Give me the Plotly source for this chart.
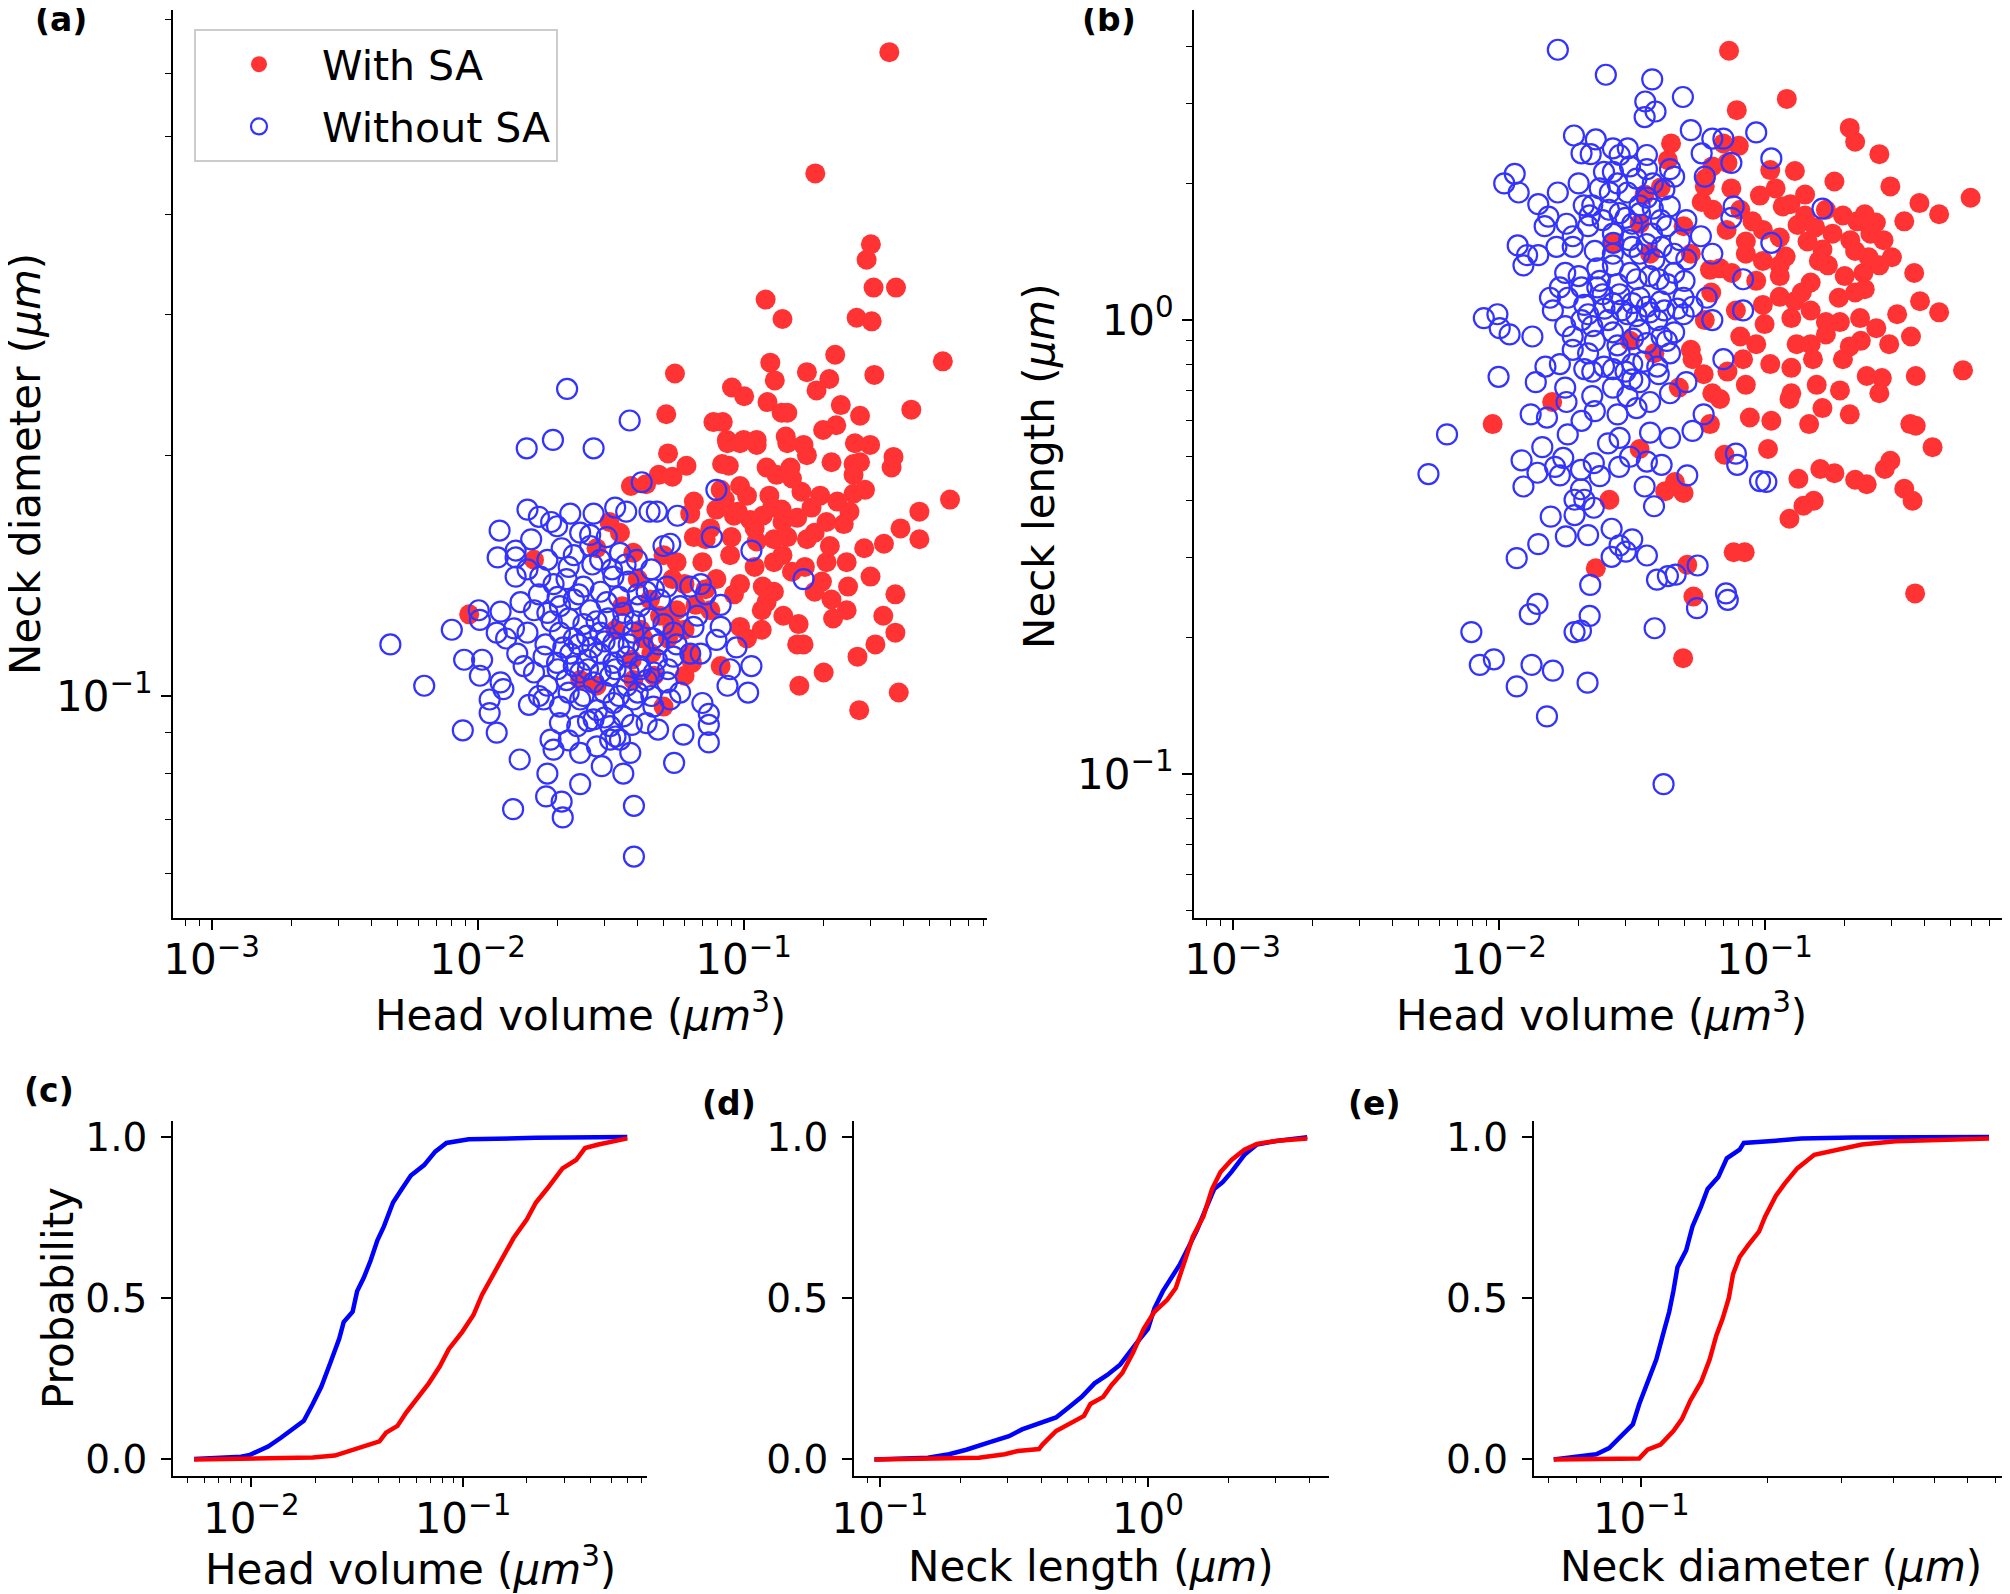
import plotly.graph_objects as go

W, H = 2010, 1594
OX, OY = 8, 8                      # page body offset of the plot div
FW, FH = W - OX, H - OY            # figure size so that it fills the window
FONT = "DejaVu Sans"
RED_PT = "rgb(255,51,51)"
BLUE_PT = "rgb(51,51,255)"

# ---------------- data ----------------
# (a) head volume (um^3) vs neck diameter (um)
a_with_sa = [
    (0.353, 0.638), (0.186, 0.450), (0.301, 0.367), (0.290, 0.351), (0.308, 0.324), (0.374, 0.324),
    (0.121, 0.313), (0.140, 0.296), (0.266, 0.297), (0.303, 0.294), (0.561, 0.262), (0.221, 0.267),
    (0.0552, 0.253), (0.126, 0.261), (0.131, 0.248), (0.173, 0.254), (0.210, 0.249), (0.188, 0.241),
    (0.310, 0.252), (0.0904, 0.243), (0.1005, 0.237), (0.123, 0.233), (0.139, 0.226), (0.146, 0.226),
    (0.232, 0.231), (0.274, 0.224), (0.427, 0.228), (0.0512, 0.225), (0.077, 0.220), (0.0835, 0.220),
    (0.223, 0.218), (0.199, 0.215), (0.0865, 0.209), (0.100, 0.209), (0.112, 0.209), (0.144, 0.211),
    (0.052, 0.201), (0.061, 0.194), (0.083, 0.195), (0.088, 0.194), (0.087, 0.207), (0.097, 0.207),
    (0.112, 0.206), (0.146, 0.207), (0.168, 0.206), (0.173, 0.200), (0.262, 0.207), (0.299, 0.206),
    (0.366, 0.199), (0.360, 0.193), (0.214, 0.196), (0.259, 0.195), (0.274, 0.196), (0.259, 0.189),
    (0.122, 0.193), (0.133, 0.189), (0.150, 0.193), (0.152, 0.187), (0.048, 0.189), (0.054, 0.188),
    (0.043, 0.184), (0.097, 0.183), (0.103, 0.178), (0.082, 0.181), (0.194, 0.178), (0.180, 0.172),
    (0.259, 0.179), (0.286, 0.181), (0.597, 0.176), (0.458, 0.170), (0.389, 0.162), (0.458, 0.157),
    (0.063, 0.169), (0.079, 0.171), (0.092, 0.168), (0.106, 0.166), (0.118, 0.168), (0.128, 0.172),
    (0.139, 0.171), (0.159, 0.167), (0.205, 0.165), (0.238, 0.164), (0.065, 0.158), (0.072, 0.157),
    (0.089, 0.150), (0.112, 0.156), (0.130, 0.157), (0.146, 0.158), (0.173, 0.157), (0.211, 0.154),
    (0.284, 0.153), (0.337, 0.155), (0.050, 0.150), (0.056, 0.147), (0.070, 0.147), (0.079, 0.140),
    (0.130, 0.147), (0.152, 0.143), (0.205, 0.147), (0.244, 0.147), (0.097, 0.138), (0.092, 0.134),
    (0.118, 0.137), (0.122, 0.131), (0.130, 0.135), (0.197, 0.139), (0.247, 0.137), (0.300, 0.141),
    (0.372, 0.134), (0.117, 0.128), (0.141, 0.126), (0.161, 0.123), (0.214, 0.132), (0.217, 0.125),
    (0.244, 0.128), (0.335, 0.126), (0.372, 0.120), (0.097, 0.122), (0.117, 0.121), (0.103, 0.118),
    (0.159, 0.116), (0.168, 0.116), (0.313, 0.116), (0.268, 0.112), (0.060, 0.106), (0.082, 0.109),
    (0.063, 0.113), (0.200, 0.107), (0.162, 0.103), (0.383, 0.101), (0.272, 0.096),
    (0.0445, 0.132), (0.0485, 0.126), (0.054, 0.122), (0.046, 0.106), (0.042, 0.118), (0.075, 0.128),
    (0.072, 0.136), (0.054, 0.140),
    (0.0377, 0.183), (0.0163, 0.148), (0.0093, 0.1265), (0.0313, 0.165), (0.0343, 0.160), (0.0385, 0.151),
    (0.028, 0.153), (0.040, 0.140), (0.0243, 0.1047), (0.028, 0.103), (0.041, 0.121), (0.035, 0.1295),
    (0.0385, 0.1047), (0.050, 0.097),
    (0.065, 0.175), (0.075, 0.162), (0.085, 0.176), (0.095, 0.170), (0.110, 0.162), (0.125, 0.178),
    (0.140, 0.165), (0.165, 0.180), (0.185, 0.160), (0.225, 0.175), (0.250, 0.170), (0.170, 0.145),
    (0.185, 0.135), (0.140, 0.150), (0.110, 0.145), (0.090, 0.158), (0.060, 0.138), (0.066, 0.130),
    (0.045, 0.113), (0.052, 0.118), (0.038, 0.111), (0.033, 0.121), (0.056, 0.128), (0.060, 0.121),
    (0.064, 0.110),
]
a_without_sa = [
    (0.0217, 0.242), (0.0373, 0.221), (0.0153, 0.204), (0.0192, 0.209), (0.0273, 0.204), (0.0414, 0.185),
    (0.0154, 0.171), (0.0170, 0.1675), (0.0189, 0.165), (0.0223, 0.169), (0.0273, 0.169), (0.0329, 0.172),
    (0.0362, 0.170), (0.0443, 0.170), (0.0472, 0.170), (0.0564, 0.168), (0.0121, 0.161), (0.0159, 0.157),
    (0.0199, 0.163), (0.0243, 0.160), (0.0265, 0.159), (0.0306, 0.158), (0.0119, 0.149), (0.0139, 0.152),
    (0.0139, 0.149), (0.0154, 0.144), (0.0183, 0.148), (0.0207, 0.153), (0.0230, 0.150), (0.0265, 0.154),
    (0.0289, 0.148), (0.0343, 0.151), (0.0397, 0.148), (0.0500, 0.154), (0.0530, 0.155), (0.0139, 0.141),
    (0.0172, 0.141), (0.0193, 0.138), (0.0216, 0.140), (0.0250, 0.137), (0.0324, 0.141), (0.0369, 0.139),
    (0.0432, 0.135), (0.0515, 0.137), (0.0630, 0.137), (0.0101, 0.128), (0.0122, 0.1275), (0.0145, 0.131),
    (0.0163, 0.128), (0.0183, 0.127), (0.0204, 0.1295), (0.0230, 0.132), (0.0265, 0.128), (0.0306, 0.131),
    (0.0353, 0.127), (0.0408, 0.1295), (0.0485, 0.132), (0.0577, 0.1295), (0.0080, 0.121), (0.0047, 0.116),
    (0.0102, 0.1245), (0.0137, 0.1215), (0.0118, 0.120), (0.0154, 0.120), (0.0128, 0.118), (0.0204, 0.120),
    (0.0230, 0.118), (0.0258, 0.119), (0.0289, 0.120), (0.0324, 0.1165), (0.0385, 0.120), (0.0458, 0.118),
    (0.0545, 0.120), (0.0648, 0.122), (0.0089, 0.111), (0.0104, 0.111), (0.0102, 0.106), (0.0141, 0.113),
    (0.0149, 0.109), (0.0177, 0.112), (0.0199, 0.110), (0.0223, 0.113), (0.0258, 0.111), (0.0289, 0.113),
    (0.0324, 0.110), (0.0364, 0.112), (0.0408, 0.109), (0.0472, 0.111), (0.0545, 0.112), (0.0630, 0.113),
    (0.0063, 0.103), (0.0122, 0.104), (0.0125, 0.102), (0.0163, 0.107), (0.0183, 0.103), (0.0216, 0.1047),
    (0.0243, 0.107), (0.0273, 0.104), (0.0315, 0.106), (0.0364, 0.103), (0.0432, 0.1047), (0.0515, 0.104),
    (0.0577, 0.101), (0.0111, 0.099), (0.0111, 0.0952), (0.0156, 0.0975), (0.0177, 0.099), (0.0204, 0.097),
    (0.0243, 0.099), (0.0281, 0.096), (0.0324, 0.098), (0.0385, 0.099), (0.0458, 0.097), (0.0530, 0.099),
    (0.0594, 0.0895), (0.0088, 0.0906), (0.0118, 0.090), (0.0204, 0.0925), (0.0237, 0.0917), (0.0273, 0.0935),
    (0.0315, 0.0917), (0.0353, 0.0943), (0.0432, 0.0925), (0.0477, 0.0908), (0.0144, 0.0833), (0.0188, 0.0882),
    (0.0193, 0.0857), (0.0243, 0.0849), (0.0281, 0.0865), (0.0315, 0.0882), (0.0343, 0.0882), (0.0375, 0.0849),
    (0.0548, 0.0825), (0.0183, 0.080), (0.0243, 0.0776), (0.0293, 0.0817), (0.0353, 0.080), (0.0181, 0.0749),
    (0.0207, 0.0738), (0.0209, 0.0705), (0.0136, 0.0722), (0.0387, 0.0729), (0.0387, 0.063),
    (0.079, 0.181), (0.076, 0.158), (0.107, 0.152), (0.168, 0.140), (0.069, 0.138), (0.082, 0.122),
    (0.094, 0.115), (0.107, 0.109), (0.087, 0.103), (0.104, 0.101), (0.070, 0.098), (0.074, 0.095),
    (0.074, 0.092), (0.074, 0.0875), (0.072, 0.134), (0.082, 0.130), (0.067, 0.126), (0.079, 0.1175),
    (0.069, 0.113), (0.089, 0.108),
    (0.019, 0.124), (0.022, 0.125), (0.025, 0.123), (0.028, 0.124), (0.031, 0.125), (0.035, 0.123),
    (0.039, 0.124), (0.044, 0.125), (0.050, 0.123), (0.018, 0.116), (0.021, 0.115), (0.024, 0.116),
    (0.027, 0.115), (0.030, 0.117), (0.034, 0.115), (0.037, 0.116), (0.042, 0.115), (0.048, 0.116),
    (0.056, 0.116), (0.020, 0.108), (0.023, 0.109), (0.026, 0.108), (0.029, 0.107), (0.033, 0.108),
    (0.037, 0.107), (0.041, 0.108), (0.046, 0.107), (0.052, 0.108), (0.017, 0.100), (0.022, 0.101),
    (0.025, 0.100), (0.030, 0.101), (0.034, 0.100), (0.040, 0.101), (0.045, 0.100), (0.026, 0.093),
    (0.030, 0.094), (0.038, 0.092), (0.022, 0.088), (0.033, 0.089), (0.020, 0.133), (0.024, 0.134),
    (0.029, 0.135), (0.034, 0.133), (0.040, 0.134), (0.046, 0.136), (0.017, 0.134), (0.022, 0.145),
    (0.027, 0.146), (0.032, 0.144), (0.036, 0.146), (0.045, 0.144),
]

# (b) head volume (um^3) vs neck length (um)
b_with_sa = [
    (0.0445, 2.45), (0.0433, 2.25), (0.0407, 1.96), (0.0354, 1.89), (0.0596, 1.97), (0.0580, 1.82),
    (0.0496, 1.61), (0.0528, 1.40), (0.0623, 1.29), (0.0269, 1.48), (0.0339, 1.63), (0.0371, 1.40),
    (0.0596, 1.00), (0.0312, 0.90), (0.0385, 0.845), (0.0528, 0.86), (0.0536, 0.82), (0.0590, 0.76),
    (0.0476, 0.71), (0.0636, 0.69), (0.0159, 0.66), (0.0095, 0.59), (0.0623, 0.59), (0.0339, 0.52),
    (0.0636, 2.18), (0.064, 1.75), (0.063, 1.15),
    (0.0261, 0.402), (0.0423, 0.420), (0.0496, 0.416), (0.0232, 0.284), (0.0512, 0.289), (0.0765, 0.308),
    (0.0842, 0.308), (0.0540, 0.246), (0.0494, 0.180), (0.0707, 0.505), (0.046, 0.44),
    (0.0735, 3.92), (0.1212, 3.07), (0.0786, 2.90), (0.209, 2.65), (0.219, 2.47), (0.270, 2.32),
    (0.183, 2.02), (0.297, 1.97), (0.595, 1.86), (0.382, 1.81), (0.453, 1.71), (0.335, 1.65),
    (0.080, 2.42), (0.0725, 2.22), (0.105, 2.14), (0.130, 2.13), (0.142, 1.89), (0.096, 1.88),
    (0.117, 1.78), (0.081, 1.75), (0.170, 1.75), (0.197, 1.70), (0.223, 1.65), (0.238, 1.71),
    (0.262, 1.64), (0.142, 1.70), (0.133, 1.62), (0.0985, 1.58), (0.114, 1.52), (0.085, 1.49),
    (0.145, 1.49), (0.165, 1.43), (0.219, 1.42), (0.246, 1.375), (0.301, 1.375), (0.173, 1.32),
    (0.0985, 1.35), (0.114, 1.32), (0.0752, 1.27), (0.093, 1.22), (0.114, 1.25), (0.149, 1.21),
    (0.200, 1.25), (0.235, 1.27), (0.270, 1.32), (0.365, 1.27), (0.219, 1.15), (0.238, 1.17),
    (0.0985, 1.08), (0.114, 1.125), (0.138, 1.15), (0.126, 1.01), (0.149, 1.05), (0.170, 0.99),
    (0.192, 0.99), (0.2285, 1.01), (0.263, 0.96), (0.315, 1.03), (0.384, 1.10), (0.453, 1.04),
    (0.355, 0.92), (0.294, 0.885), (0.093, 0.885), (0.081, 0.92), (0.132, 0.885), (0.149, 0.885),
    (0.209, 0.875), (0.105, 0.80), (0.126, 0.785), (0.152, 0.82), (0.197, 0.82), (0.083, 0.82),
    (0.0725, 0.77), (0.242, 0.753), (0.276, 0.745), (0.270, 0.69), (0.370, 0.753), (0.557, 0.775),
    (0.085, 0.72), (0.126, 0.69), (0.157, 0.72), (0.192, 0.70), (0.068, 0.67), (0.124, 0.67),
    (0.165, 0.64), (0.209, 0.62), (0.088, 0.61), (0.106, 0.60), (0.147, 0.59), (0.353, 0.59),
    (0.370, 0.585), (0.428, 0.525), (0.103, 0.52), (0.134, 0.447), (0.162, 0.47), (0.183, 0.46),
    (0.219, 0.445), (0.242, 0.435), (0.297, 0.49), (0.283, 0.47), (0.335, 0.425), (0.360, 0.40),
    (0.153, 0.40), (0.140, 0.39), (0.124, 0.365), (0.368, 0.25),
    (0.075, 1.95), (0.090, 1.65), (0.110, 1.95), (0.125, 1.80), (0.155, 1.60), (0.180, 1.55),
    (0.210, 1.50), (0.250, 1.55), (0.280, 1.50), (0.085, 1.40), (0.120, 1.38), (0.160, 1.35),
    (0.190, 1.12), (0.130, 1.10), (0.100, 0.98), (0.170, 0.93), (0.230, 0.90), (0.078, 1.05),
    (0.068, 1.30), (0.072, 1.58), (0.060, 2.05), (0.070, 2.45),
]
b_without_sa = [
    (0.0167, 3.94), (0.0253, 3.47), (0.0378, 3.39), (0.0493, 3.10), (0.0356, 3.03), (0.0389, 2.88),
    (0.0354, 2.80), (0.0192, 2.55), (0.0232, 2.50), (0.0205, 2.33), (0.0222, 2.32), (0.0269, 2.39),
    (0.0306, 2.39), (0.0285, 2.31), (0.0361, 2.31), (0.0528, 2.62), (0.0580, 2.33), (0.0636, 2.51),
    (0.0105, 2.00), (0.0115, 2.10), (0.0119, 1.91), (0.0141, 1.80), (0.0167, 1.91), (0.0154, 1.69),
    (0.0149, 1.61), (0.0180, 1.63), (0.0225, 1.79), (0.0249, 2.12), (0.0269, 2.12), (0.0312, 2.18),
    (0.0361, 2.15), (0.0441, 2.15), (0.0305, 1.91), (0.0361, 1.86), (0.0420, 1.94), (0.0457, 2.07),
    (0.0596, 2.07), (0.0118, 1.46), (0.0128, 1.39), (0.0124, 1.32), (0.0141, 1.39), (0.0165, 1.45),
    (0.0190, 1.53), (0.0217, 1.61), (0.0246, 1.66), (0.0269, 1.55), (0.0318, 1.63), (0.0377, 1.55),
    (0.0429, 1.61), (0.0508, 1.66), (0.0576, 1.53), (0.0636, 1.40), (0.0178, 1.27), (0.0170, 1.18),
    (0.0156, 1.12), (0.0182, 1.12), (0.0205, 1.18), (0.0235, 1.30), (0.0269, 1.32), (0.0312, 1.27),
    (0.0339, 1.40), (0.0400, 1.23), (0.0457, 1.27), (0.0508, 1.36), (0.0246, 1.14), (0.0269, 1.09),
    (0.0318, 1.09), (0.0361, 1.07), (0.0420, 1.05), (0.0496, 1.12), (0.0536, 1.07), (0.0606, 1.12),
    (0.0088, 1.01), (0.0099, 1.03), (0.0101, 0.96), (0.0110, 0.93), (0.0134, 0.92), (0.0178, 0.97),
    (0.0205, 1.00), (0.0225, 0.97), (0.0269, 0.94), (0.0339, 0.95), (0.0395, 1.00), (0.0457, 0.94),
    (0.0636, 1.00), (0.0190, 0.86), (0.0217, 0.845), (0.0249, 0.79), (0.0285, 0.845), (0.0318, 0.80),
    (0.0395, 0.79), (0.0441, 0.845), (0.0100, 0.75), (0.0138, 0.73), (0.0150, 0.79), (0.0178, 0.71),
    (0.0225, 0.68), (0.0269, 0.71), (0.0305, 0.68), (0.0339, 0.73), (0.0371, 0.66), (0.0441, 0.69),
    (0.0508, 0.73), (0.0590, 0.62), (0.0064, 0.56), (0.0132, 0.62), (0.0152, 0.61), (0.0182, 0.56),
    (0.0205, 0.60), (0.0258, 0.535), (0.0285, 0.55), (0.0371, 0.565), (0.0441, 0.55), (0.0536, 0.57),
    (0.0146, 0.525),
    (0.0209, 1.79), (0.0262, 1.91), (0.0285, 1.72), (0.0339, 1.79), (0.0407, 1.66), (0.0269, 1.40),
    (0.0318, 1.45), (0.0385, 1.36), (0.0457, 1.40), (0.0235, 1.18), (0.0285, 1.14), (0.0339, 1.12),
    (0.0407, 1.10), (0.0496, 1.03), (0.0217, 1.03), (0.0258, 1.00), (0.0305, 1.03), (0.0429, 0.90),
    (0.0225, 0.77), (0.0269, 0.78), (0.0318, 0.74),
    (0.020, 2.0), (0.024, 1.95), (0.028, 2.0), (0.033, 2.05), (0.038, 2.0), (0.022, 1.7), (0.026, 1.75),
    (0.030, 1.68), (0.034, 1.72), (0.038, 1.76), (0.044, 1.78), (0.019, 1.45), (0.023, 1.42), (0.027, 1.48),
    (0.031, 1.50), (0.036, 1.47), (0.041, 1.45), (0.048, 1.50), (0.020, 1.25), (0.024, 1.22), (0.028, 1.20),
    (0.033, 1.23), (0.037, 1.25), (0.043, 1.20), (0.050, 1.22), (0.016, 1.05), (0.021, 1.08), (0.025, 1.06),
    (0.029, 1.05), (0.033, 1.02), (0.037, 1.04), (0.047, 1.06), (0.019, 0.92), (0.023, 0.90), (0.028, 0.88),
    (0.032, 0.91), (0.036, 0.89), (0.041, 0.92), (0.017, 0.80), (0.021, 0.78), (0.030, 0.77), (0.035, 0.81),
    (0.040, 0.76), (0.023, 0.63), (0.028, 0.62), (0.033, 0.64), (0.018, 0.66),
    (0.00545, 0.458), (0.0122, 0.491), (0.0140, 0.461), (0.0124, 0.430), (0.0175, 0.497), (0.0163, 0.475),
    (0.0170, 0.455), (0.0204, 0.468), (0.0240, 0.453), (0.0228, 0.484), (0.0284, 0.475), (0.0312, 0.500),
    (0.0361, 0.488), (0.0410, 0.480), (0.0354, 0.430), (0.0384, 0.389), (0.0512, 0.455), (0.0789, 0.480),
    (0.078, 0.508), (0.0961, 0.442), (0.0204, 0.424), (0.0193, 0.402), (0.0210, 0.402), (0.0228, 0.386),
    (0.0193, 0.372), (0.0157, 0.369), (0.0217, 0.336), (0.0179, 0.334), (0.0141, 0.321), (0.0117, 0.299),
    (0.0266, 0.347), (0.0285, 0.319), (0.0318, 0.329), (0.0301, 0.309), (0.0361, 0.303), (0.0266, 0.301),
    (0.0221, 0.261), (0.0394, 0.268), (0.0433, 0.273), (0.0463, 0.275), (0.0560, 0.288), (0.0716, 0.250),
    (0.0727, 0.242), (0.0140, 0.237), (0.0131, 0.225), (0.0220, 0.223), (0.0193, 0.2055), (0.0204, 0.207),
    (0.0386, 0.2095), (0.0557, 0.232), (0.0079, 0.2055), (0.0085, 0.174), (0.0096, 0.179), (0.0117, 0.156),
    (0.0133, 0.174), (0.0160, 0.169), (0.0216, 0.159), (0.0152, 0.134), (0.0417, 0.095),
    (0.093, 2.59), (0.106, 2.27), (0.070, 2.51), (0.075, 2.22), (0.165, 1.76), (0.0765, 1.78),
    (0.075, 1.68), (0.106, 1.48), (0.083, 1.23), (0.083, 1.05), (0.070, 0.82), (0.1015, 0.44),
]

# (c) cumulative probability of head volume
c_without_vol = [0.00537, 0.00894, 0.00986, 0.0106, 0.012, 0.0138, 0.016, 0.0177, 0.0195, 0.0214, 0.0236,
                 0.026, 0.0273, 0.0301, 0.0316, 0.034, 0.0366, 0.0394, 0.0423, 0.0467, 0.0514, 0.0567,
                 0.0655, 0.0739, 0.0835, 0.1064, 0.221, 0.597]
c_without_p = [0.001, 0.008, 0.014, 0.024, 0.040, 0.067, 0.098, 0.120, 0.172, 0.225, 0.299, 0.374, 0.426,
               0.458, 0.522, 0.564, 0.617, 0.680, 0.723, 0.797, 0.839, 0.881, 0.913, 0.955, 0.982, 0.993,
               0.998, 1.0]
c_with_vol = [0.00537, 0.0195, 0.0248, 0.0286, 0.034, 0.0403, 0.0433, 0.049, 0.054, 0.0609, 0.0689, 0.0777,
              0.0856, 0.099, 0.112, 0.123, 0.136, 0.157, 0.173, 0.200, 0.221, 0.249, 0.295, 0.342, 0.377,
              0.436, 0.597]
c_with_p = [0.0, 0.006, 0.012, 0.024, 0.040, 0.056, 0.083, 0.104, 0.146, 0.188, 0.236, 0.289, 0.342, 0.395,
            0.448, 0.511, 0.564, 0.638, 0.686, 0.744, 0.797, 0.839, 0.903, 0.929, 0.966, 0.977, 0.996]

# (d) cumulative probability of neck length
d_without_len = [0.0953, 0.151, 0.181, 0.210, 0.252, 0.303, 0.339, 0.407, 0.454, 0.507, 0.566, 0.632, 0.705,
                 0.787, 0.847, 0.911, 1.0, 1.057, 1.137, 1.224, 1.317, 1.418, 1.525, 1.64, 1.766, 1.90,
                 2.05, 2.29, 2.55, 3.06, 3.93]
d_without_p = [0.0, 0.005, 0.016, 0.030, 0.051, 0.072, 0.093, 0.114, 0.130, 0.162, 0.194, 0.236, 0.262,
               0.294, 0.331, 0.363, 0.405, 0.469, 0.522, 0.564, 0.606, 0.659, 0.712, 0.776, 0.839, 0.860,
               0.892, 0.945, 0.977, 0.989, 1.0]
d_with_len = [0.0953, 0.234, 0.292, 0.327, 0.392, 0.404, 0.454, 0.516, 0.577, 0.610, 0.681, 0.732, 0.802,
              0.879, 0.964, 1.057, 1.18, 1.27, 1.367, 1.47, 1.61, 1.734, 1.865, 2.05, 2.29, 2.55, 3.06, 3.93]
d_with_p = [0.0, 0.005, 0.016, 0.026, 0.032, 0.046, 0.088, 0.114, 0.135, 0.172, 0.194, 0.231, 0.268, 0.331,
            0.405, 0.458, 0.495, 0.532, 0.617, 0.691, 0.754, 0.839, 0.892, 0.929, 0.961, 0.979, 0.989, 0.996]

# (e) cumulative probability of neck diameter
e_without_diam = [0.0618, 0.0711, 0.0781, 0.0838, 0.090, 0.0955, 0.0989, 0.1035, 0.1086, 0.1125, 0.1166,
                  0.1193, 0.122, 0.128, 0.1325, 0.139, 0.144, 0.1527, 0.160, 0.1717, 0.1757, 0.2096, 0.241,
                  0.320, 0.676]
e_without_p = [0.0, 0.008, 0.016, 0.035, 0.077, 0.109, 0.172, 0.236, 0.310, 0.384, 0.458, 0.522, 0.596,
               0.649, 0.723, 0.786, 0.839, 0.876, 0.934, 0.961, 0.982, 0.989, 0.996, 0.999, 1.0]
e_with_diam = [0.0618, 0.0989, 0.1035, 0.1112, 0.1193, 0.125, 0.131, 0.139, 0.1456, 0.151, 0.1564, 0.1618,
               0.1656, 0.1717, 0.180, 0.191, 0.1976, 0.2096, 0.2197, 0.2357, 0.2588, 0.298, 0.336, 0.405,
               0.676]
e_with_p = [0.0, 0.003, 0.030, 0.046, 0.088, 0.125, 0.183, 0.241, 0.310, 0.384, 0.437, 0.501, 0.575, 0.628,
            0.665, 0.707, 0.754, 0.818, 0.855, 0.903, 0.945, 0.961, 0.977, 0.987, 0.996]

series_names = ["With SA", "Without SA"]


# ---------------- layout helpers (window pixel -> paper) ----------------
def px_x(x):
    return (x - OX) / FW


def px_y(y):
    return 1 - (y - OY) / FH


def sup(n):
    return "10<sup>" + n.replace("-", "\u2212") + "</sup>"


fig = go.Figure()

fig.add_trace(go.Scatter(x=[p[0] for p in a_with_sa], y=[p[1] for p in a_with_sa], mode="markers",
                         name=series_names[0], xaxis="x", yaxis="y", legendgroup="g1",
                         marker=dict(size=20, color=RED_PT, line=dict(width=0))))
fig.add_trace(go.Scatter(x=[p[0] for p in a_without_sa], y=[p[1] for p in a_without_sa], mode="markers",
                         name=series_names[1], xaxis="x", yaxis="y", legendgroup="g2",
                         marker=dict(size=20, symbol="circle-open", color=BLUE_PT,
                                     line=dict(width=2.2, color=BLUE_PT))))
fig.add_trace(go.Scatter(x=[p[0] for p in b_with_sa], y=[p[1] for p in b_with_sa], mode="markers",
                         name=series_names[0], xaxis="x2", yaxis="y2", showlegend=False,
                         marker=dict(size=20, color=RED_PT, line=dict(width=0))))
fig.add_trace(go.Scatter(x=[p[0] for p in b_without_sa], y=[p[1] for p in b_without_sa], mode="markers",
                         name=series_names[1], xaxis="x2", yaxis="y2", showlegend=False,
                         marker=dict(size=20, symbol="circle-open", color=BLUE_PT,
                                     line=dict(width=2.2, color=BLUE_PT))))

for ax, xs_wo, ps_wo, xs_w, ps_w in [("3", c_without_vol, c_without_p, c_with_vol, c_with_p),
                                     ("4", d_without_len, d_without_p, d_with_len, d_with_p),
                                     ("5", e_without_diam, e_without_p, e_with_diam, e_with_p)]:
    fig.add_trace(go.Scatter(x=xs_wo, y=ps_wo, mode="lines", name=series_names[1], showlegend=False,
                             xaxis="x" + ax, yaxis="y" + ax, line=dict(color="#0000ff", width=4.5)))
    fig.add_trace(go.Scatter(x=xs_w, y=ps_w, mode="lines", name=series_names[0], showlegend=False,
                             xaxis="x" + ax, yaxis="y" + ax, line=dict(color="#ff0000", width=4.5)))


def axis_style(domain, rng, tickvals, ticktext, minor_vals, anchor, log=True, fsize=42, standoff=0):
    d = dict(domain=domain, range=rng, showgrid=False, zeroline=False, showline=True, linecolor="black",
             linewidth=1.6, mirror=False, ticks="outside", ticklen=10, tickwidth=1.6, tickcolor="black",
             tickmode="array", tickvals=tickvals, ticktext=ticktext,
             tickfont=dict(family=FONT, size=fsize, color="black"), anchor=anchor,
             automargin=False, ticklabelstandoff=standoff)
    if log:
        d["type"] = "log"
    if minor_vals:
        d["minor"] = dict(tickmode="array", tickvals=minor_vals, ticks="outside", ticklen=6, tickwidth=1.2,
                          tickcolor="black", showgrid=False)
    return d


def dec_minor(lo, hi):
    return [m * 10 ** e for e in range(lo, hi) for m in range(2, 10)]


xa_minor = [v for v in dec_minor(-4, 0) if 7.2e-4 < v < 0.82]
ya_minor = [v for v in dec_minor(-2, 0) if 0.053 < v < 0.72]
yb_minor = [v for v in dec_minor(-2, 1) if 0.048 < v < 4.8]
xc_minor = [v for v in dec_minor(-3, 0) if 0.0043 < v < 0.74]
xd_minor = [v for v in dec_minor(-2, 1) if 0.081 < v < 4.7]
xe_minor = [v for v in dec_minor(-2, 0) if 0.0553 < v < 0.75]

dom_ab_y = [px_y(918), px_y(10)]
dom_cde_y = [px_y(1475.5), px_y(1121)]
prob_vals, prob_text = [0, 0.5, 1], ["0.0", "0.5", "1.0"]

fig.update_layout(
    width=FW, height=FH, margin=dict(l=0, r=0, t=0, b=0, pad=0, autoexpand=False), autosize=False,
    paper_bgcolor="white", plot_bgcolor="white",
    font=dict(family=FONT, size=41, color="black"),
    xaxis=axis_style([px_x(173), px_x(987)], [-3.145, -0.085], [1e-3, 1e-2, 1e-1],
                     [sup("-3"), sup("-2"), sup("-1")], xa_minor, "y", standoff=-6),
    yaxis=axis_style(dom_ab_y, [-1.2775, -0.1425], [0.1], [sup("-1")], ya_minor, "x"),
    xaxis2=axis_style([px_x(1194), px_x(2008)], [-3.145, -0.085], [1e-3, 1e-2, 1e-1],
                      [sup("-3"), sup("-2"), sup("-1")], xa_minor, "y2", standoff=-6),
    yaxis2=axis_style(dom_ab_y, [-1.317, 0.683], [0.1, 1], [sup("-1"), sup("0")], yb_minor, "x2"),
    xaxis3=axis_style([px_x(173), px_x(647)], [-2.37, -0.131], [1e-2, 1e-1], [sup("-2"), sup("-1")],
                      xc_minor, "y3", standoff=-5),
    yaxis3=axis_style(dom_cde_y, [-0.05, 1.05], prob_vals, prob_text, None, "x3", log=False, fsize=39,
                      standoff=6),
    xaxis4=axis_style([px_x(854), px_x(1328.6)], [-1.097, 0.674], [1e-1, 1], [sup("-1"), sup("0")],
                      xd_minor, "y4", standoff=-5),
    yaxis4=axis_style(dom_cde_y, [-0.05, 1.05], prob_vals, prob_text, None, "x4", log=False, fsize=39,
                      standoff=6),
    xaxis5=axis_style([px_x(1533.6), px_x(2008.7)], [-1.257, -0.123], [1e-1], [sup("-1")], xe_minor, "y5",
                      standoff=-5),
    yaxis5=axis_style(dom_cde_y, [-0.05, 1.05], prob_vals, prob_text, None, "x5", log=False, fsize=39,
                      standoff=6),
    legend=dict(x=px_x(194), y=px_y(29), xanchor="left", yanchor="top", bgcolor="white",
                bordercolor="#cccccc", borderwidth=2, font=dict(family=FONT, size=41, color="black"),
                traceorder="grouped", tracegroupgap=6, itemsizing="trace", itemwidth=116),
    showlegend=True,
)


def ann(text, x, y, size=42, angle=0, bold=False):
    if bold:
        text = "<b>" + text + "</b>"
    fig.add_annotation(text=text, x=px_x(x), y=px_y(y), xref="paper", yref="paper", showarrow=False,
                       xanchor="center", yanchor="middle", textangle=angle,
                       font=dict(family=FONT, size=size, color="black"))


ann("Head volume (<i>\u03bcm</i><sup>3</sup>)", 580, 1012)
ann("Neck diameter (<i>\u03bcm</i>)", 25, 464, angle=-90)
ann("Head volume (<i>\u03bcm</i><sup>3</sup>)", 1601, 1012)
ann("Neck length (<i>\u03bcm</i>)", 1040, 466, angle=-90)
ann("Probability", 58, 1298, angle=-90)
ann("Head volume (<i>\u03bcm</i><sup>3</sup>)", 410, 1566)
ann("Neck length (<i>\u03bcm</i>)", 1091, 1566)
ann("Neck diameter (<i>\u03bcm</i>)", 1771, 1566)
ann("(a)", 61, 20, size=33, bold=True)
ann("(b)", 1109, 20, size=33, bold=True)
ann("(c)", 49, 1090, size=33, bold=True)
ann("(d)", 729, 1103, size=33, bold=True)
ann("(e)", 1374, 1103, size=33, bold=True)

fig.write_html("out.html")
